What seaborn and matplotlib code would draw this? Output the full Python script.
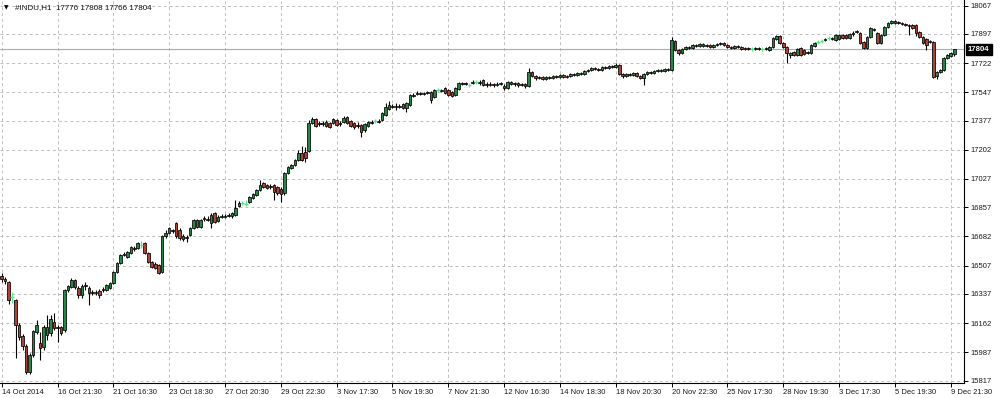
import numpy as np
import pandas as pd
import matplotlib
matplotlib.use("Agg")
import matplotlib.pyplot as plt
import matplotlib.transforms as mtransforms
import seaborn as sns

# ---------------- data (hourly candles, #INDU H1) ----------------
open_ = [
    16444, 16426, 16408, 16318, 16300, 16150, 16084, 16024, 15868, 15970,
    16108, 16042, 16018, 16090, 16102, 16168, 16138, 16138, 16120, 16360,
    16378, 16420, 16372, 16330, 16384, 16372, 16348, 16342, 16354, 16360,
    16360, 16372, 16402, 16468, 16522, 16570, 16558, 16582, 16606, 16612,
    16630, 16642, 16582, 16528, 16516, 16510, 16468, 16684, 16702, 16720,
    16762, 16720, 16684, 16672, 16690, 16732, 16780, 16738, 16786, 16780,
    16762, 16822, 16774, 16798, 16798, 16804, 16804, 16810, 16864, 16882,
    16876, 16888, 16912, 16930, 16960, 17002, 16990, 16984, 16990, 16978,
    16966, 16942, 17062, 17092, 17110, 17140, 17182, 17188, 17194, 17362,
    17386, 17356, 17362, 17368, 17362, 17362, 17380, 17362, 17368, 17398,
    17374, 17362, 17350, 17350, 17320, 17344, 17362, 17374, 17368, 17380,
    17410, 17446, 17458, 17458, 17458, 17476, 17452, 17470, 17524, 17536,
    17536, 17536, 17542, 17548, 17518, 17560, 17554, 17572, 17560, 17548,
    17530, 17566, 17596, 17596, 17590, 17602, 17608, 17602, 17620, 17596,
    17590, 17596, 17590, 17596, 17584, 17572, 17608, 17596, 17602, 17590,
    17596, 17584, 17668, 17644, 17632, 17638, 17626, 17638, 17632, 17644,
    17638, 17650, 17638, 17644, 17656, 17650, 17662, 17656, 17674, 17680,
    17692, 17686, 17680, 17698, 17692, 17704, 17698, 17710, 17656, 17644,
    17656, 17650, 17662, 17644, 17632, 17656, 17668, 17662, 17674, 17680,
    17674, 17686, 17680, 17854, 17800, 17782, 17806, 17818, 17812, 17830,
    17824, 17836, 17824, 17830, 17818, 17830, 17836, 17842, 17830, 17818,
    17812, 17824, 17818, 17806, 17812, 17806, 17806, 17812, 17806, 17806,
    17800, 17818, 17866, 17884, 17842, 17818, 17770, 17788, 17770, 17812,
    17800, 17782, 17782, 17824, 17848, 17854, 17860, 17872, 17866, 17860,
    17890, 17890, 17890, 17872, 17896, 17908, 17902, 17848, 17812, 17878,
    17926, 17902, 17842, 17890, 17938, 17962, 17974, 17968, 17962, 17956,
    17950, 17950, 17950, 17908, 17878, 17866, 17854, 17848, 17644, 17668,
    17680, 17752, 17764, 17776,
]
high = [
    16462, 16438, 16414, 16348, 16306, 16162, 16096, 16036, 15982, 16120,
    16180, 16108, 16150, 16210, 16210, 16222, 16150, 16144, 16366, 16390,
    16432, 16426, 16384, 16396, 16408, 16384, 16360, 16360, 16366, 16378,
    16396, 16408, 16474, 16528, 16576, 16588, 16594, 16624, 16624, 16648,
    16654, 16648, 16588, 16534, 16528, 16516, 16690, 16720, 16738, 16726,
    16768, 16732, 16696, 16690, 16738, 16786, 16786, 16786, 16804, 16804,
    16822, 16828, 16810, 16816, 16816, 16822, 16828, 16900, 16894, 16894,
    16900, 16924, 16942, 16966, 17020, 17008, 16996, 16996, 16996, 16984,
    16978, 17068, 17104, 17116, 17146, 17200, 17224, 17218, 17380, 17398,
    17392, 17374, 17374, 17380, 17368, 17392, 17386, 17374, 17404, 17404,
    17380, 17368, 17368, 17356, 17362, 17374, 17380, 17386, 17386, 17428,
    17482, 17494, 17476, 17482, 17476, 17482, 17488, 17536, 17542, 17554,
    17548, 17548, 17554, 17554, 17566, 17572, 17566, 17578, 17566, 17554,
    17578, 17608, 17608, 17608, 17602, 17620, 17620, 17620, 17626, 17608,
    17608, 17602, 17608, 17608, 17596, 17614, 17614, 17608, 17608, 17602,
    17602, 17692, 17674, 17650, 17644, 17644, 17644, 17644, 17650, 17650,
    17656, 17656, 17650, 17662, 17662, 17668, 17668, 17680, 17686, 17698,
    17698, 17692, 17704, 17704, 17710, 17710, 17722, 17716, 17662, 17662,
    17662, 17668, 17668, 17650, 17662, 17674, 17674, 17680, 17686, 17686,
    17692, 17692, 17878, 17860, 17806, 17812, 17824, 17824, 17836, 17836,
    17842, 17842, 17836, 17836, 17836, 17842, 17848, 17848, 17836, 17824,
    17830, 17830, 17824, 17818, 17818, 17818, 17818, 17818, 17818, 17818,
    17824, 17878, 17890, 17890, 17848, 17824, 17788, 17794, 17812, 17818,
    17806, 17794, 17836, 17848, 17860, 17866, 17872, 17884, 17878, 17896,
    17896, 17896, 17896, 17902, 17914, 17920, 17908, 17854, 17884, 17938,
    17932, 17908, 17896, 17944, 17968, 17980, 17980, 17974, 17968, 17962,
    17956, 17956, 17956, 17914, 17884, 17872, 17860, 17854, 17674, 17686,
    17758, 17776, 17788, 17808,
]
low = [
    16408, 16396, 16276, 16282, 15952, 16060, 16000, 15856, 15856, 15958,
    16096, 15940, 16000, 16060, 16084, 16120, 16048, 16090, 16108, 16348,
    16372, 16366, 16312, 16312, 16360, 16270, 16330, 16330, 16312, 16348,
    16354, 16366, 16396, 16462, 16516, 16564, 16552, 16576, 16594, 16606,
    16612, 16576, 16522, 16492, 16486, 16456, 16462, 16672, 16696, 16702,
    16672, 16660, 16654, 16648, 16684, 16726, 16732, 16732, 16774, 16774,
    16732, 16762, 16768, 16792, 16792, 16798, 16792, 16804, 16858, 16870,
    16864, 16882, 16906, 16924, 16954, 16972, 16966, 16966, 16900, 16930,
    16888, 16930, 17056, 17086, 17104, 17134, 17134, 17128, 17188, 17356,
    17338, 17344, 17344, 17338, 17332, 17356, 17344, 17344, 17362, 17356,
    17338, 17326, 17332, 17278, 17308, 17338, 17356, 17362, 17362, 17374,
    17404, 17440, 17452, 17440, 17452, 17446, 17428, 17464, 17518, 17530,
    17530, 17530, 17536, 17482, 17512, 17548, 17548, 17536, 17524, 17518,
    17524, 17560, 17590, 17590, 17578, 17596, 17596, 17590, 17584, 17578,
    17584, 17578, 17584, 17590, 17560, 17566, 17590, 17584, 17578, 17584,
    17572, 17578, 17638, 17620, 17626, 17620, 17620, 17626, 17626, 17632,
    17632, 17632, 17632, 17638, 17644, 17644, 17650, 17650, 17668, 17674,
    17680, 17674, 17674, 17686, 17686, 17692, 17692, 17650, 17632, 17638,
    17644, 17644, 17638, 17626, 17590, 17650, 17656, 17656, 17668, 17668,
    17668, 17674, 17674, 17794, 17770, 17776, 17800, 17806, 17806, 17818,
    17818, 17818, 17818, 17812, 17812, 17824, 17830, 17824, 17812, 17806,
    17806, 17812, 17800, 17800, 17800, 17794, 17800, 17800, 17794, 17800,
    17794, 17812, 17860, 17836, 17812, 17722, 17752, 17764, 17764, 17764,
    17770, 17776, 17776, 17818, 17836, 17842, 17854, 17860, 17860, 17854,
    17860, 17866, 17866, 17866, 17884, 17902, 17836, 17806, 17806, 17872,
    17914, 17836, 17836, 17884, 17932, 17956, 17956, 17956, 17950, 17944,
    17890, 17926, 17884, 17872, 17836, 17800, 17842, 17632, 17626, 17662,
    17674, 17746, 17758, 17766,
]
close = [
    16426, 16414, 16300, 16318, 16150, 16078, 16024, 15868, 15970, 16114,
    16150, 16012, 16138, 16138, 16186, 16132, 16132, 16102, 16360, 16384,
    16420, 16378, 16330, 16384, 16390, 16342, 16342, 16348, 16330, 16366,
    16390, 16402, 16468, 16522, 16570, 16576, 16588, 16618, 16612, 16642,
    16630, 16582, 16528, 16498, 16492, 16462, 16684, 16702, 16732, 16714,
    16684, 16672, 16666, 16678, 16732, 16780, 16738, 16780, 16792, 16786,
    16810, 16768, 16798, 16804, 16804, 16810, 16822, 16852, 16882, 16882,
    16876, 16918, 16936, 16960, 16990, 16978, 16972, 16978, 16948, 16942,
    16936, 17062, 17098, 17110, 17140, 17182, 17140, 17152, 17362, 17386,
    17344, 17362, 17356, 17344, 17338, 17386, 17350, 17356, 17392, 17362,
    17344, 17338, 17344, 17308, 17356, 17368, 17368, 17374, 17374, 17422,
    17458, 17470, 17464, 17464, 17464, 17452, 17482, 17530, 17530, 17542,
    17542, 17542, 17548, 17500, 17560, 17560, 17560, 17542, 17530, 17524,
    17572, 17602, 17602, 17602, 17590, 17608, 17608, 17608, 17590, 17590,
    17596, 17590, 17596, 17602, 17572, 17608, 17596, 17602, 17590, 17596,
    17584, 17668, 17644, 17632, 17638, 17626, 17638, 17632, 17644, 17638,
    17650, 17638, 17644, 17656, 17650, 17662, 17656, 17674, 17680, 17692,
    17686, 17680, 17698, 17692, 17704, 17698, 17710, 17656, 17644, 17656,
    17650, 17662, 17644, 17632, 17656, 17668, 17662, 17674, 17680, 17674,
    17686, 17680, 17860, 17800, 17782, 17806, 17818, 17812, 17830, 17824,
    17836, 17824, 17830, 17818, 17830, 17836, 17842, 17830, 17818, 17812,
    17824, 17818, 17806, 17812, 17806, 17806, 17812, 17806, 17806, 17812,
    17818, 17872, 17884, 17842, 17818, 17782, 17782, 17770, 17806, 17770,
    17776, 17788, 17830, 17842, 17848, 17854, 17866, 17872, 17872, 17890,
    17866, 17872, 17872, 17896, 17902, 17914, 17842, 17812, 17878, 17932,
    17920, 17842, 17890, 17938, 17962, 17974, 17962, 17962, 17956, 17950,
    17944, 17932, 17902, 17878, 17842, 17830, 17848, 17638, 17668, 17680,
    17752, 17770, 17782, 17804,
]

time_labels = ["14 Oct 2014", "16 Oct 21:30", "21 Oct 16:30", "23 Oct 18:30",
               "27 Oct 20:30", "29 Oct 22:30", "3 Nov 17:30", "5 Nov 19:30",
               "7 Nov 21:30", "12 Nov 16:30", "14 Nov 18:30", "18 Nov 20:30",
               "20 Nov 22:30", "25 Nov 17:30", "28 Nov 19:30", "3 Dec 17:30",
               "5 Dec 19:30", "9 Dec 21:30"]
label_bars = [0, 16, 32, 48, 64, 80, 96, 112, 128, 144, 160, 176, 192, 208,
              224, 240, 256, 272]
price_ticks = [18067, 17897, 17722, 17547, 17377, 17202, 17027, 16857, 16682,
               16507, 16337, 16162, 15987, 15817]
last_price = 17804
symbol_text = "#INDU,H1  17776 17808 17766 17804"

# ---------------- style ----------------
sns.set_theme(style="white")
plt.rcParams["font.family"] = ["Liberation Sans", "DejaVu Sans"]

GREEN = "#2a8546"
RED = "#ab4336"
DOJI = "#5fe08a"

df = pd.DataFrame({"open": open_, "high": high, "low": low, "close": close})
df["bar"] = np.arange(len(df))
up = df[df.close > df.open]
down = df[df.close < df.open]
doji = df[df.close == df.open]
solid = df[df.close != df.open]

fig = plt.figure(figsize=(10, 3.98), dpi=100)
fig.patch.set_facecolor("white")
ax = fig.add_axes([0.0, 15 / 398, 0.964, 383 / 398])
ax.set_facecolor("white")

# wicks
ax.vlines(solid.bar, solid.low, solid.high, color="black", lw=0.8, zorder=3)
# bodies
ax.bar(up.bar, up.close - up.open, bottom=up.open, width=0.74, color=GREEN,
       edgecolor="black", linewidth=0.55, zorder=4)
ax.bar(down.bar, down.open - down.close, bottom=down.close, width=0.74,
       color=RED, edgecolor="black", linewidth=0.55, zorder=4)
# doji candles
ax.vlines(doji.bar, doji.low, doji.high, color=DOJI, lw=0.9, zorder=3)
ax.hlines(doji.open, doji.bar - 0.5, doji.bar + 0.5, color=DOJI, lw=1.0,
          zorder=4)

# current price line
ax.axhline(last_price, color="#9fb3a8", lw=0.8, zorder=2)

ax.set_xlim(-0.49, 275.8)
ax.set_ylim(15802, 18100)

ax.set_xticks(label_bars)
ax.set_xticklabels(time_labels)
for lbl in ax.get_xticklabels():
    lbl.set_horizontalalignment("left")
ax.set_yticks(price_ticks)
ax.set_yticklabels([str(v) for v in price_ticks])
ax.yaxis.tick_right()

ax.grid(True, color="#bdbdbd", linestyle=(0, (3, 3)), linewidth=0.7, zorder=0)
ax.tick_params(axis="x", bottom=True, top=False, direction="out", length=3,
               width=0.7, color="black", labelsize=5.5, pad=1.2,
               labelcolor="#1a1a1a")
ax.tick_params(axis="y", right=True, left=False, direction="out", length=3,
               width=0.7, color="black", labelsize=5.5, pad=1.5,
               labelcolor="#1a1a1a")

for side in ("top", "left"):
    ax.spines[side].set_visible(False)
for side in ("right", "bottom"):
    ax.spines[side].set_color("black")
    ax.spines[side].set_linewidth(0.8)

trans = mtransforms.blended_transform_factory(ax.transAxes, ax.transData)
ax.text(1.004, last_price, str(last_price), transform=trans, ha="left",
        va="center", color="white", fontsize=5.6, fontweight="bold",
        bbox=dict(boxstyle="square,pad=0.28", fc="black", ec="black"),
        zorder=6, clip_on=False)

fig.text(4 / 1000, 1 - 8 / 398, "\u25BC", fontsize=4.2, va="center",
         ha="left", color="black", family=["DejaVu Sans"])
fig.text(15 / 1000, 1 - 8 / 398, symbol_text, fontsize=5.8, va="center",
         ha="left", color="#111111")

fig.savefig("out.png", dpi=100, facecolor="white")
